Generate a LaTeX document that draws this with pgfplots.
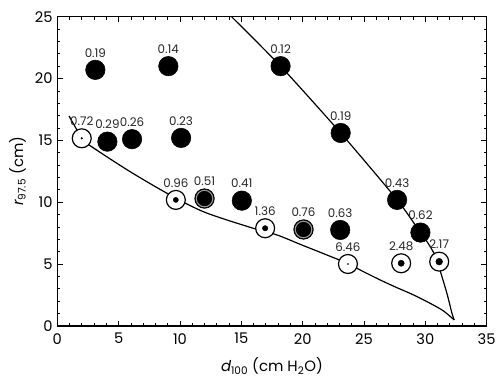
\documentclass[border=0pt]{standalone}
\usepackage{pgfplots}
\pgfplotsset{compat=1.18}
\usepackage{fontspec}
\setmainfont{Poppins}
\begin{document}
\begin{tikzpicture}
\pgfplotsset{
  lab/.style={nodes near coords, point meta=explicit symbolic,
    every node near coord/.style={anchor=base, yshift=9.5pt, inner sep=0pt,
      font=\fontsize{8.9}{10}\selectfont, text=black!85}},
}
\begin{axis}[
  scale only axis, width=322pt, height=232pt,
  xmin=0, xmax=35, ymin=0, ymax=25,
  xtick={0,5,...,35}, ytick={0,5,...,25},
  minor tick num=4,
  tick align=inside, tick pos=both,
  major tick length=4pt, minor tick length=2.2pt,
  every tick/.style={black, line width=0.6pt},
  axis line style={line width=1.2pt},
  ticklabel style={font=\fontsize{11}{12}\selectfont},
  xticklabel style={yshift=-2pt},
  /pgf/number format/assume math mode=true,
  xlabel={{\itshape d}\textsubscript{100} (cm H\textsubscript{2}O)},
  ylabel={{\itshape r}\textsubscript{97.5} (cm)},
  label style={font=\fontsize{11.2}{12}\selectfont},
  xlabel style={yshift=-3pt},
]
% curves
\addplot[black, line width=0.9pt, smooth, tension=0.5] coordinates {
 (0.95,16.98) (1.99,15.2) (2.59,14.63) (5.94,12.47) (9.19,10.59)
 (12.0,9.2) (15.7,7.98) (17.9,7.36) (20.0,6.52) (23.7,5.05)
 (24.42,4.66) (26.32,3.72) (27.68,3.10) (29.04,2.51) (30.4,1.83)
 (31.49,1.21) (32.35,0.49)};
\addplot[black, line width=0.9pt, smooth, tension=0.4] coordinates {
 (14.2,25) (18.2,21.0) (23.1,15.6) (27.7,10.2) (29.6,7.55)
 (30.25,6.65) (30.85,5.6) (31.2,4.5) (31.76,2.64) (32.17,1.03) (32.35,0.49)};
% filled circles
\addplot[only marks, mark=*, mark size=7.3pt, mark options={fill=black, draw=black}, lab] coordinates {
 (3.1,20.7) [0.19] (9.05,21.0) [0.14] (4.08,14.9) [0.29] (6.09,15.1) [0.26]
 (10.09,15.2) [0.23] (15.04,10.13) [0.41] (18.2,21.0) [0.12] (23.1,15.6) [0.19]
 (27.7,10.19) [0.43] (29.6,7.55) [0.62] (23.06,7.76) [0.63]};
% double-ring circles
\addplot[only marks, mark=*, mark size=7.3pt, mark options={fill=black, draw=black, line width=0.6pt}, lab] coordinates {
 (12.0,10.3) [0.51] (20.07,7.8) [0.76]};
\addplot[only marks, mark=o, mark size=6.2pt, mark options={draw=black!40, line width=0.8pt}] coordinates {
 (12.0,10.3) (20.07,7.8)};
% open circles with dots
\addplot[only marks, mark=*, mark size=7.1pt, mark options={fill=white, draw=black, line width=0.9pt}, lab] coordinates {
 (1.99,15.17) [0.72] (9.66,10.19) [0.96] (16.94,7.9) [1.36] (23.69,5.01) [6.46]
 (28.03,5.07) [2.48] (31.13,5.2) [2.17]};
\addplot[only marks, mark=*, mark size=0.6pt, black] coordinates {(1.99,15.17)};
\addplot[only marks, mark=*, mark size=0.4pt, black] coordinates {(23.69,5.01)};
\addplot[only marks, mark=*, mark size=1.9pt, black] coordinates {(9.66,10.19)};
\addplot[only marks, mark=*, mark size=2.0pt, black] coordinates {(16.94,7.9)};
\addplot[only marks, mark=*, mark size=2.3pt, black] coordinates {(28.03,5.07)};
\addplot[only marks, mark=*, mark size=2.5pt, black] coordinates {(31.13,5.2)};
\end{axis}
\pgfresetboundingbox
\path (current axis.south west) ++(-43pt,-39pt) coordinate (bl);
\path (current axis.north east) ++(10pt,12.5pt) coordinate (tr);
\path (bl) rectangle (tr);
\end{tikzpicture}
\end{document}
